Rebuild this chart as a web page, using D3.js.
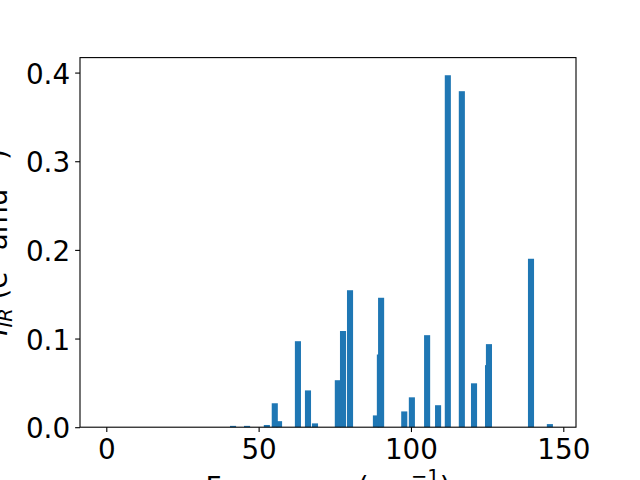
<!DOCTYPE html>
<html><head><meta charset="utf-8">
<script src="https://cdn.jsdelivr.net/npm/d3@7"></script>
<style>body{margin:0;background:#fff} svg{display:block}</style>
</head><body>
<script>
// Frequencies (cm^-1) and IR intensities
const frequencies = [0, 0, 0, 41.6, 46.2, 52.7, 55.3, 56.7, 62.9, 66.2, 68.5, 76.0, 77.7, 80.0,
  88.5, 89.8, 90.2, 97.8, 100.3, 105.3, 108.9, 112.1, 116.7, 120.7, 125.3, 125.6, 139.4, 145.6];
const intensities = [0, 0, 0, 0.0015, 0.0015, 0.0025, 0.027, 0.0068, 0.097, 0.0415, 0.0043, 0.053, 0.1085, 0.1545,
  0.0133, 0.082, 0.146, 0.0178, 0.0337, 0.1038, 0.0248, 0.397, 0.379, 0.0495, 0.070, 0.0937, 0.190, 0.0035];
const barWidth = 2;
const xTicks = [0, 50, 100, 150];
const yTicks = [0.0, 0.1, 0.2, 0.3, 0.4];
const xDomain = [-8.63, 154.17];
const yDomain = [0, 0.4169];

const W = 640, H = 480;
const L = 80, R = 576, T = 57.6, B = 427.2;
const FS = 27.8;
const font = "'DejaVu Sans', sans-serif";

const svg = d3.select("body").append("svg").attr("width", W).attr("height", H)
  .style("font-family", font);

const x = d3.scaleLinear().domain(xDomain).range([L, R]);
const y = d3.scaleLinear().domain(yDomain).range([B, T]);

const data = frequencies.map((f, i) => ({f, v: intensities[i]}));

svg.append("g").selectAll("rect").data(data).join("rect")
  .attr("x", d => x(d.f - barWidth / 2))
  .attr("width", d => x(d.f + barWidth / 2) - x(d.f - barWidth / 2))
  .attr("y", d => y(d.v))
  .attr("height", d => y(0) - y(d.v))
  .attr("fill", "#1f77b4");

// Axes
const xAxis = svg.append("g").attr("transform", `translate(0,${B})`)
  .call(d3.axisBottom(x).tickValues(xTicks).tickFormat(d3.format("d")).tickSize(4.86).tickSizeOuter(0));
const yAxis = svg.append("g").attr("transform", `translate(${L},0)`)
  .call(d3.axisLeft(y).tickValues(yTicks).tickFormat(d3.format(".1f")).tickSize(4.86).tickSizeOuter(0));

[xAxis, yAxis].forEach(g => {
  g.select(".domain").remove();
  g.selectAll(".tick line").attr("stroke", "#000").attr("stroke-width", 1.1);
  g.selectAll(".tick text").attr("fill", "#000").style("font-size", FS + "px").style("font-family", font);
});
xAxis.selectAll(".tick text").attr("y", 32.3).attr("dy", null);
yAxis.selectAll(".tick text").attr("x", -9.9).attr("dy", 10.6);

// Spines
svg.append("rect").attr("x", L).attr("y", T).attr("width", R - L).attr("height", B - T)
  .attr("fill", "none").attr("stroke", "#000").attr("stroke-width", 1.1);

// X label
const xl = svg.append("text").attr("x", (L + R) / 2).attr("y", 497)
  .attr("text-anchor", "middle").style("font-size", FS + "px").attr("fill", "#000");
xl.append("tspan").text("Frequency (cm");
xl.append("tspan").attr("dy", -14).style("font-size", (FS * 0.7) + "px").text("\u22121");
xl.append("tspan").attr("dy", 14).text(")");

// Y label
const yl = svg.append("text").attr("transform", `translate(7,${(T + B) / 2}) rotate(-90)`)
  .attr("text-anchor", "middle").style("font-size", FS + "px").attr("fill", "#000");
yl.append("tspan").style("font-style", "italic").text("I");
yl.append("tspan").attr("dy", 5).style("font-size", (FS * 0.7) + "px").style("font-style", "italic").text("IR");
yl.append("tspan").attr("dy", -5).text("\u00a0(e");
yl.append("tspan").attr("dy", -12).style("font-size", (FS * 0.7) + "px").text("2");
yl.append("tspan").attr("dy", 12).text("\u00a0amu");
yl.append("tspan").attr("dy", -12).style("font-size", (FS * 0.7) + "px").text("\u22121");
yl.append("tspan").attr("dy", 12).text(")");
</script>
</body></html>
